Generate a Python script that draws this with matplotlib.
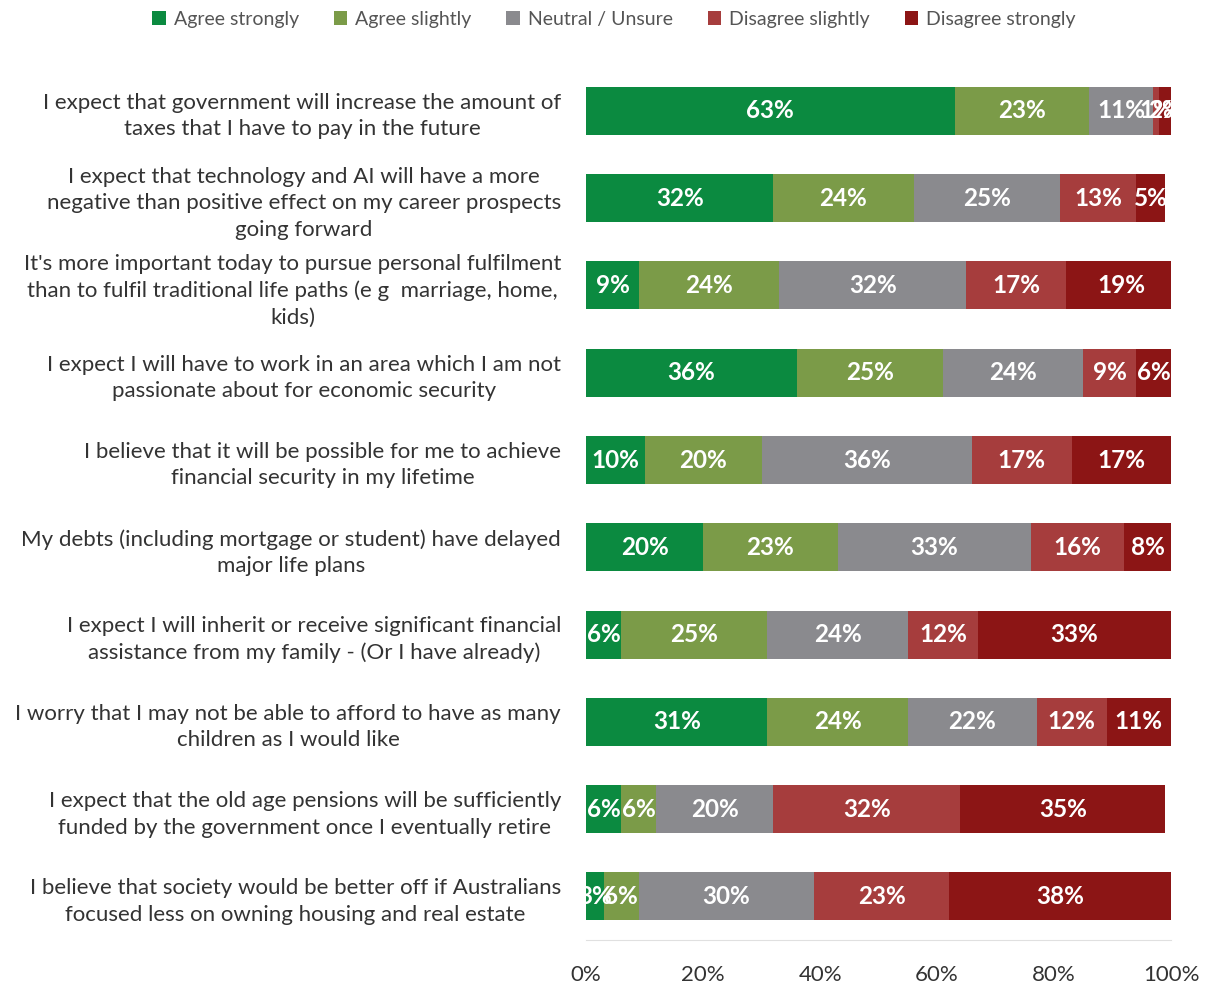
import numpy as np
import matplotlib
matplotlib.use("Agg")
from matplotlib import pyplot as plt

statements = [
    "I expect that government will increase the amount of\ntaxes that I have to pay in the future",
    "I expect that technology and AI will have a more\nnegative than positive effect on my career prospects\ngoing forward",
    "It's more important today to pursue personal fulfilment\nthan to fulfil traditional life paths (e g  marriage, home,\nkids)",
    "I expect I will have to work in an area which I am not\npassionate about for economic security",
    "I believe that it will be possible for me to achieve\nfinancial security in my lifetime",
    "My debts (including mortgage or student) have delayed\nmajor life plans",
    "I expect I will inherit or receive significant financial\nassistance from my family - (Or I have already)",
    "I worry that I may not be able to afford to have as many\nchildren as I would like",
    "I expect that the old age pensions will be sufficiently\nfunded by the government once I eventually retire",
    "I believe that society would be better off if Australians\nfocused less on owning housing and real estate",
]

responses = ["Agree strongly", "Agree slightly", "Neutral / Unsure",
             "Disagree slightly", "Disagree strongly"]

agree_strongly    = [63, 32, 9, 36, 10, 20, 6, 31, 6, 3]
agree_slightly    = [23, 24, 24, 25, 20, 23, 25, 24, 6, 6]
neutral           = [11, 25, 32, 24, 36, 33, 24, 22, 20, 30]
disagree_slightly = [1, 13, 17, 9, 17, 16, 12, 12, 32, 23]
disagree_strongly = [2, 5, 19, 6, 17, 8, 33, 11, 35, 38]

colors = ["#0b8a40", "#7b9b48", "#8a8a8e", "#a63d3d", "#8c1515"]

series = [agree_strongly, agree_slightly, neutral, disagree_slightly, disagree_strongly]

fig = plt.figure(figsize=(12.11, 9.9), dpi=100)
ax = fig.add_axes([0.484, 0.0505, 0.483, 0.8815])

y = np.arange(len(statements))
left = np.zeros(len(statements))
for name, vals, col in zip(responses, series, colors):
    vals = np.array(vals, dtype=float)
    bars = ax.barh(y, vals, left=left, height=0.55, color=col, label=name)
    for rect, v in zip(bars, vals):
        ax.text(rect.get_x() + rect.get_width() / 2, rect.get_y() + rect.get_height() / 2,
                "{:.0f}%".format(v), ha="center", va="center", color="white",
                fontsize=17.5, fontweight="bold", family="Lato")
    left += vals

ax.set_xlim(0, 100)
ax.set_ylim(len(statements) - 0.5, -0.5)
ax.set_yticks(y)
ax.set_yticklabels(statements, fontsize=16, color="#333333", family="Lato")
for lab in ax.get_yticklabels():
    lab.set_multialignment("center")
    lab.set_linespacing(1.4)
ax.set_xticks([0, 20, 40, 60, 80, 100])
ax.set_xticklabels(["0%", "20%", "40%", "60%", "80%", "100%"], fontsize=16,
                   color="#333333", family="Lato")
ax.tick_params(axis="both", length=0)
ax.tick_params(axis="y", pad=18)
ax.tick_params(axis="x", pad=18)
for s in ["top", "right", "left"]:
    ax.spines[s].set_visible(False)
ax.spines["bottom"].set_color("#e0e0e0")

fig.legend(*ax.get_legend_handles_labels(), loc="upper center", ncol=5,
           bbox_to_anchor=(0.507, 1.007), frameon=False, handlelength=0.7,
           handleheight=0.7, columnspacing=1.8, handletextpad=0.4,
           prop={"family": "Lato", "size": 14}, labelcolor="#555555")

fig.savefig("out.png", dpi=100)
